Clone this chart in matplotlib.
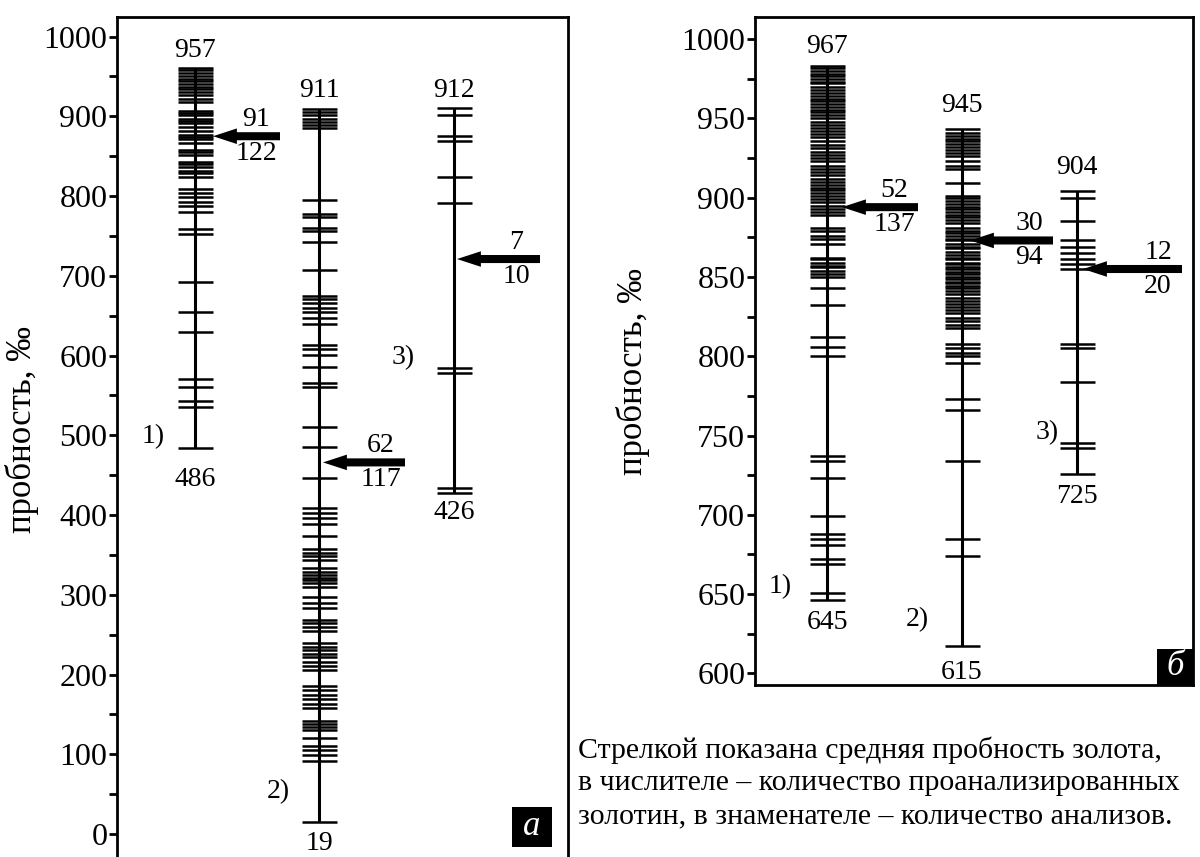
import matplotlib.pyplot as plt
from matplotlib.patches import Rectangle

plt.rcParams['font.family'] = ['Liberation Serif', 'DejaVu Serif']

# ---- panel "а": fineness of individual grains, three groups ----
a_col1 = [961, 958, 954, 951, 947, 944, 941, 937, 934, 931, 927, 922, 918,
          907, 904, 901, 897, 894, 891, 887, 882, 877, 874, 871, 867,
          858, 855, 852, 843, 840, 836, 832, 829, 824,
          809, 804, 799, 793, 788, 780, 759, 752, 692, 654, 629,
          571, 561, 543, 536, 484]
a_col2 = [909, 905, 901, 897, 893, 889, 885,
          795, 778, 774, 760, 756, 742, 707,
          675, 671, 666, 660, 654, 647, 640, 613, 608, 601, 586, 566, 561,
          510, 485, 447, 409, 402, 396, 389, 374, 358, 353, 349, 344,
          333, 329, 325, 321, 318, 315, 310, 297, 290, 284, 268, 264, 260, 254,
          240, 235, 231, 226, 222, 216, 211, 206, 186, 180, 174, 169, 163, 158,
          142, 138, 134, 130, 120, 110, 105, 99, 92, 15]
a_col3 = [911, 902, 875, 869, 824, 791, 584, 578, 434, 428]
a_means = [875, 466, 721]
a_top = [957, 911, 912]
a_bottom = [486, 19, 426]
a_num = [91, 62, 7]
a_den = [122, 117, 10]
a_groups = ['1)', '2)', '3)']

# ---- panel "б" ----
b_col1 = [983, 982, 980, 978, 977, 975, 973, 972, 970, 968, 966, 964, 962,
          961, 959, 957, 955, 954, 952, 950, 948, 946, 944, 942, 940, 938,
          936, 933, 931, 929, 927, 925, 923, 920, 918, 916, 914, 912, 910,
          908, 906, 905, 903, 901, 899, 897, 895, 893, 891, 889,
          881, 879, 876, 874, 871, 862, 861, 859, 857, 856, 854, 852, 850,
          843, 832, 812, 806, 800, 737, 734, 723, 699, 688, 685, 681,
          672, 669, 651, 646]
b_col2 = [943, 941, 939, 937, 936, 934, 932, 930, 928, 926, 923, 920, 918,
          909, 901, 900, 898, 896, 894, 893, 891, 889, 888, 886, 884,
          881, 879, 878, 876, 874, 873, 871, 869, 868, 866, 864, 862, 861,
          859, 858, 856, 855, 853, 852, 850, 849, 847, 846, 844, 843, 841,
          839, 837, 835, 833, 831, 829, 827, 824, 822, 820, 818,
          808, 805, 802, 800, 796, 773, 766, 734, 685, 674, 617]
b_col3 = [904, 900, 885, 873, 869, 865, 861, 858, 855, 808, 805, 784,
          745, 742, 726]
b_means = [894, 873, 855]
b_top = [967, 945, 904]
b_bottom = [645, 615, 725]
b_num = [52, 30, 12]
b_den = [137, 94, 20]
b_groups = ['1)', '2)', '3)']

ylabel = 'пробность, ‰'
note = ['Стрелкой показана средняя пробность золота,',
        'в числителе – количество проанализированных',
        'золотин, в знаменателе – количество анализов.']

W, H = 1200, 857
PT = 0.72  # px -> pt at dpi 100

fig = plt.figure(figsize=(W / 100, H / 100), dpi=100)


def px_axes(x0, y0, x1, y1):
    return fig.add_axes([x0 / W, 1 - y1 / H, (x1 - x0) / W, (y1 - y0) / H])


def draw_panel(ax, cols, means, tops, bottoms, nums, dens, groups, lay):
    for i, vals in enumerate(cols):
        xc = lay['xc'][i]
        ax.vlines(xc, min(vals), max(vals), color='black', lw=2.2)
        ax.hlines(vals, xc - 17.5, xc + 17.5, color='black', lw=1.8)
        ax.annotate('', xy=(lay['tip'][i], means[i]), xytext=(lay['end'][i], means[i]),
                    arrowprops=dict(arrowstyle='simple,head_length=0.86,head_width=0.56,tail_width=0.29',
                                    mutation_scale=20, fc='black', ec='none',
                                    shrinkA=0, shrinkB=0))
        ax.annotate(str(nums[i]), xy=(lay['end'][i], means[i]),
                    xytext=(-24 * PT, 17 * PT), textcoords='offset points',
                    ha='center', va='center', fontsize=20)
        ax.annotate(str(dens[i]), xy=(lay['end'][i], means[i]),
                    xytext=(-24 * PT, -17 * PT), textcoords='offset points',
                    ha='center', va='center', fontsize=20)
        ax.annotate(str(tops[i]), xy=(xc, max(vals)),
                    xytext=(0, lay['top_off'][i] * PT), textcoords='offset points',
                    ha='center', va='center', fontsize=20)
        ax.annotate(str(bottoms[i]), xy=(xc, min(vals)),
                    xytext=(0, -lay['bot_off'][i] * PT), textcoords='offset points',
                    ha='center', va='center', fontsize=20)
        ax.text(lay['gx'][i], lay['gy'][i], groups[i], ha='center', va='center',
                fontsize=20)


def style_axes(ax):
    for s in ax.spines.values():
        s.set_linewidth(2.0)
    ax.set_xticks([])
    ax.tick_params(axis='y', which='both', direction='out', width=2.0,
                   length=6, labelsize=23, pad=1)


# panel а
ax_a = px_axes(117, 17, 568, 857)
ax_a.set_xlim(0, 451)
ax_a.set_ylim(-28.8, 1024.5)
ax_a.set_yticks(range(0, 1001, 100))
ax_a.set_yticks(range(50, 1000, 100), minor=True)
style_axes(ax_a)
ax_a.spines['bottom'].set_visible(False)
draw_panel(ax_a, [a_col1, a_col2, a_col3], a_means, a_top, a_bottom, a_num, a_den,
           a_groups,
           dict(xc=[78, 202, 337], tip=[96, 206, 340], end=[163, 288, 423],
                top_off=[17, 19, 17], bot_off=[31, 21, 20],
                gx=[36, 161, 286], gy=[498, 53, 598]))
ax_a.add_patch(Rectangle((0.876, 0.012), 0.089, 0.048, transform=ax_a.transAxes,
                         fc='black', ec='none'))
ax_a.text(0.9205, 0.036, 'a', transform=ax_a.transAxes, color='white',
          fontsize=25, style='italic', ha='center', va='center')

# panel б
ax_b = px_axes(755, 17, 1193, 685)
ax_b.set_xlim(0, 438)
ax_b.set_ylim(592.7, 1013.9)
ax_b.set_yticks(range(600, 1001, 50))
ax_b.set_yticks(range(625, 1000, 50), minor=True)
style_axes(ax_b)
draw_panel(ax_b, [b_col1, b_col2, b_col3], b_means, b_top, b_bottom, b_num, b_den,
           b_groups,
           dict(xc=[72, 207, 322], tip=[87, 215, 328], end=[163, 298, 427],
                top_off=[20, 24, 24], bot_off=[22, 26, 23],
                gx=[25, 162, 292], gy=[655, 634, 752]))
ax_b.add_patch(Rectangle((0.918, 0.0), 0.082, 0.054, transform=ax_b.transAxes,
                         fc='black', ec='none'))
ax_b.text(0.959, 0.027, 'б', transform=ax_b.transAxes, color='white',
          fontsize=25, style='italic', ha='center', va='center')

fig.text(22 / W, 1 - 430 / H, ylabel, rotation=90, ha='center', va='center', fontsize=25)
fig.text(633 / W, 1 - 372 / H, ylabel, rotation=90, ha='center', va='center', fontsize=25)

for k, line in enumerate(note):
    fig.text(578 / W, 1 - (750 + 33 * k) / H, line, ha='left', va='center', fontsize=21.5)

fig.savefig('out.png', dpi=100)
